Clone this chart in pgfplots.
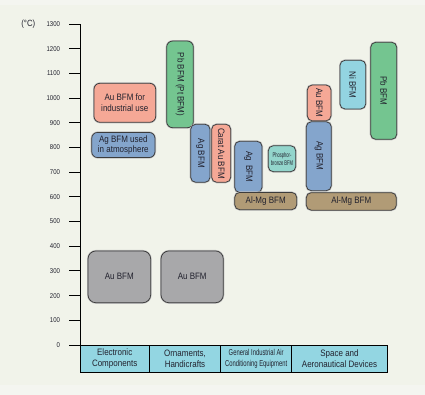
\documentclass[border=0pt]{standalone}
\usepackage{pgfplots}
\pgfplotsset{compat=1.18}
\usepackage{fontspec}
\setmainfont{Liberation Sans}
\newfontfamily\cond[FakeStretch=0.86]{Liberation Sans}
\newfontfamily\condn[FakeStretch=0.68]{Liberation Sans}
\newfontfamily\condt[FakeStretch=0.6]{Liberation Sans}
\definecolor{bgcol}{HTML}{F1F3EA}
\definecolor{bglight}{HTML}{F4F5F0}
\definecolor{salmon}{HTML}{F5A896}
\definecolor{bluebox}{HTML}{84A5CC}
\definecolor{greenbox}{HTML}{74C590}
\definecolor{graybox}{HTML}{A8A8AA}
\definecolor{tealbox}{HTML}{93D5CC}
\definecolor{nibox}{HTML}{93D4E1}
\definecolor{brownbox}{HTML}{B19B76}
\definecolor{band}{HTML}{93D6E2}
\definecolor{boxline}{HTML}{3C3C3C}
\definecolor{txt}{HTML}{22222E}
% box: xleft, xright, ybottom, ytop, colour, radius
\newcommand{\bx}[6]{\addplot[fill=#5, draw=boxline, line width=0.75pt, rounded corners=#6, preaction={draw=black!25, line width=2pt}] coordinates {(#1,#3) (#2,#3) (#2,#4) (#1,#4)} -- cycle;}
\begin{document}
\begin{tikzpicture}
\begin{axis}[
  set layers,
  x=1pt, y=0.2469pt,
  xmin=80, xmax=400, ymin=-110.6, ymax=1300,
  clip=false,
  axis x line=none,
  axis y line*=left,
  y axis line style={black, line width=0.9pt},
  ytick={0,100,...,1300},
  tick align=outside,
  major tick length=11pt,
  ytick style={black, line width=0.9pt},
  /pgf/number format/assume math mode=true,
  /pgf/number format/1000 sep={},
  yticklabel style={font=\cond\fontsize{7}{8}\selectfont, text=txt, xshift=-5.5pt},
]
\pgfonlayer{axis background}
\fill[bgcol] (axis cs:0,1397.3) rectangle (axis cs:425,-202.5);
\fill[bglight] (axis cs:0,1397.3) rectangle (axis cs:425,1377);
\fill[bglight] (axis cs:0,-161) rectangle (axis cs:425,-202.5);
\endpgfonlayer

% category band
\addplot[fill=band, draw=black, line width=0.8pt] coordinates {(80,0) (149.3,0) (149.3,-110.6) (80,-110.6)} -- cycle;
\addplot[fill=band, draw=black, line width=0.8pt] coordinates {(149.3,0) (220.7,0) (220.7,-110.6) (149.3,-110.6)} -- cycle;
\addplot[fill=band, draw=black, line width=0.8pt] coordinates {(220.7,0) (291.7,0) (291.7,-110.6) (220.7,-110.6)} -- cycle;
\addplot[fill=band, draw=black, line width=0.8pt] coordinates {(291.7,0) (387.3,0) (387.3,-110.6) (291.7,-110.6)} -- cycle;

% Electronic Components
\bx{88}{150.7}{171}{381}{graybox}{8pt}
\bx{94}{155.7}{902}{1060}{salmon}{6pt}
\bx{91.7}{155}{759}{861}{bluebox}{6pt}
% Ornaments, Handicrafts
\bx{161}{223.3}{171}{381}{graybox}{8pt}
\bx{166.7}{193.3}{880}{1231}{greenbox}{6pt}
\bx{190.7}{210}{659}{894}{bluebox}{5pt}
\bx{211.7}{230.7}{659}{894}{salmon}{5pt}
% General Industrial Air Conditioning
\bx{234.7}{262}{618}{825}{bluebox}{5pt}
\bx{268.3}{295.7}{702}{807}{tealbox}{5pt}
\bx{234.7}{296.7}{548}{618}{brownbox}{5pt}
% Space and Aeronautical
\bx{307.3}{331}{908}{1053}{salmon}{5pt}
\bx{306.3}{331.3}{625}{904}{bluebox}{5pt}
\bx{340}{365.7}{956}{1153}{nibox}{5pt}
\bx{370.7}{396.7}{833}{1226}{greenbox}{5pt}
\bx{306.3}{396.3}{546}{617}{brownbox}{5pt}

% labels
\begin{scope}[every node/.style={text=txt, align=center, inner sep=0pt, font=\cond\fontsize{9.3}{10.5}\selectfont}]
\node at (axis cs:119.3,276) {Au BFM};
\node at (axis cs:192.2,276) {Au BFM};
\node at (axis cs:124.8,981) {Au BFM for\\industrial use};
\node at (axis cs:123.3,810) {Ag BFM used\\in atmosphere};
\node[rotate=-90] at (axis cs:180,1055) {Pb BFM (Pt BFM)};
\node[rotate=-90] at (axis cs:200.3,776) {Ag BFM};
\node[rotate=-90] at (axis cs:221.2,776) {Carat Au BFM};
\node[rotate=-90] at (axis cs:248.3,721) {Ag\ \ BFM};
\node[font=\condt\fontsize{6.8}{7.8}\selectfont] at (axis cs:282,754) {Phosphor-\\bronze BFM};
\node at (axis cs:265.7,583) {Al-Mg BFM};
\node[rotate=-90] at (axis cs:319.2,980) {Au BFM};
\node[rotate=-90] at (axis cs:318.8,765) {Ag BFM};
\node[rotate=-90] at (axis cs:352.8,1054) {Ni BFM};
\node[rotate=-90] at (axis cs:383.7,1030) {Pb BFM};
\node at (axis cs:351.3,582) {Al-Mg BFM};
% categories
\node at (axis cs:114.7,-55) {Electronic\\Components};
\node at (axis cs:185,-55) {Ornaments,\\Handicrafts};
\node[font=\condn\fontsize{8.6}{10.5}\selectfont] at (axis cs:256.2,-55) {General Industrial Air\\Conditioning Equipment};
\node at (axis cs:339.5,-55) {Space and\\Aeronautical Devices};
% unit
\node[font=\cond\fontsize{9}{10}\selectfont] at (axis cs:28.3,1300) {(°C)};
\end{scope}
\end{axis}
\end{tikzpicture}
\end{document}
